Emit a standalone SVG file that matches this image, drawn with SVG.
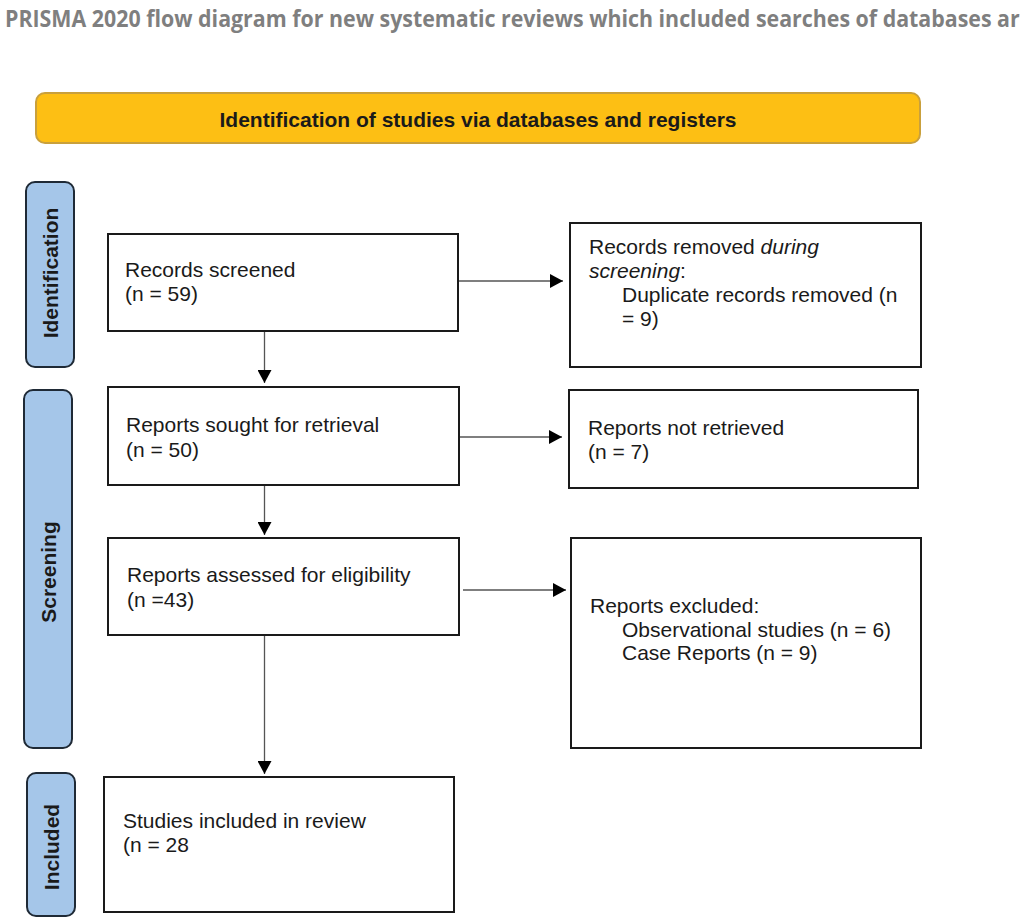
<svg xmlns="http://www.w3.org/2000/svg" width="1028" height="919" viewBox="0 0 1028 919">
  <style>
    .box { fill: #ffffff; stroke: #1a1a1a; stroke-width: 2; }
    .side { fill: #a5c6e9; stroke: #1f2a36; stroke-width: 2; }
    .t { font-family: "Liberation Sans", Arial, sans-serif; font-size: 21px; fill: #1a1a1a; }
    .st { font-family: "Liberation Sans", Arial, sans-serif; font-size: 21px; font-weight: bold; fill: #1a1a1a; }
    .conn { stroke: #555555; stroke-width: 1.3; fill: none; marker-end: url(#arr); }
  </style>
  <defs>
    <marker id="arr" markerUnits="userSpaceOnUse" markerWidth="14" markerHeight="14" refX="13" refY="7" orient="auto">
      <path d="M0,0 L13,7 L0,14 Z" fill="#000000"/>
    </marker>
  </defs>
  <rect width="1028" height="919" fill="#ffffff"/>

  <text id="title" transform="translate(5,27) scale(0.84,1)" x="0" y="0" font-family="Open Sans, sans-serif" font-size="24" font-weight="bold" fill="#7f7f7f" textLength="1208" lengthAdjust="spacingAndGlyphs">PRISMA 2020 flow diagram for new systematic reviews which included searches of databases ar</text>

  <g id="banner">
    <rect x="36" y="93" width="884" height="50" rx="9" fill="#fdbf14" stroke="#c9a03c" stroke-width="2"/>
    <text class="st" x="478" y="127" text-anchor="middle">Identification of studies via databases and registers</text>
  </g>

  <g id="side-identification">
    <rect class="side" x="26" y="182" width="48" height="185" rx="9"/>
    <text class="st" transform="translate(57.5,273) rotate(-90)" text-anchor="middle">Identification</text>
  </g>
  <g id="side-screening">
    <rect class="side" x="24" y="390" width="48" height="358" rx="9"/>
    <text class="st" transform="translate(55.5,572) rotate(-90)" text-anchor="middle">Screening</text>
  </g>
  <g id="side-included">
    <rect class="side" x="27" y="773" width="48" height="143" rx="9"/>
    <text class="st" transform="translate(58.5,847) rotate(-90)" text-anchor="middle">Included</text>
  </g>

  <g id="records-screened">
    <rect class="box" x="108" y="234" width="350" height="97"/>
    <text class="t" x="125" y="277">Records screened</text>
    <text class="t" x="125" y="301">(n = 59)</text>
  </g>

  <g id="records-removed">
    <rect class="box" x="570" y="223" width="351" height="144"/>
    <text class="t" x="589" y="254">Records removed <tspan font-style="italic">during</tspan></text>
    <text class="t" x="589" y="278"><tspan font-style="italic">screening</tspan>:</text>
    <text class="t" x="622" y="302">Duplicate records removed (n</text>
    <text class="t" x="622" y="326">= 9)</text>
  </g>

  <g id="reports-sought">
    <rect class="box" x="108" y="387" width="351" height="98"/>
    <text class="t" x="126" y="432">Reports sought for retrieval</text>
    <text class="t" x="126" y="457">(n = 50)</text>
  </g>

  <g id="reports-not-retrieved">
    <rect class="box" x="569" y="390" width="349" height="98"/>
    <text class="t" x="588" y="435">Reports not retrieved</text>
    <text class="t" x="588" y="459">(n = 7)</text>
  </g>

  <g id="reports-assessed">
    <rect class="box" x="108" y="538" width="351" height="97"/>
    <text class="t" x="127" y="582">Reports assessed for eligibility</text>
    <text class="t" x="127" y="607">(n =43)</text>
  </g>

  <g id="reports-excluded">
    <rect class="box" x="571" y="538" width="350" height="210"/>
    <text class="t" x="590" y="613">Reports excluded:</text>
    <text class="t" x="622" y="637">Observational studies (n = 6)</text>
    <text class="t" x="622" y="660">Case Reports (n = 9)</text>
  </g>

  <g id="studies-included">
    <rect class="box" x="104" y="777" width="350" height="135"/>
    <text class="t" x="123" y="828">Studies included in review</text>
    <text class="t" x="123" y="852">(n = 28</text>
  </g>

  <g id="connectors">
    <line class="conn" x1="459" y1="281" x2="563" y2="281"/>
    <line class="conn" x1="264.5" y1="332" x2="264.5" y2="383"/>
    <line class="conn" x1="460" y1="437" x2="562" y2="437"/>
    <line class="conn" x1="264.5" y1="486" x2="264.5" y2="535"/>
    <line class="conn" x1="463" y1="590" x2="566" y2="590"/>
    <line class="conn" x1="264.5" y1="636" x2="264.5" y2="774"/>
  </g>
</svg>
